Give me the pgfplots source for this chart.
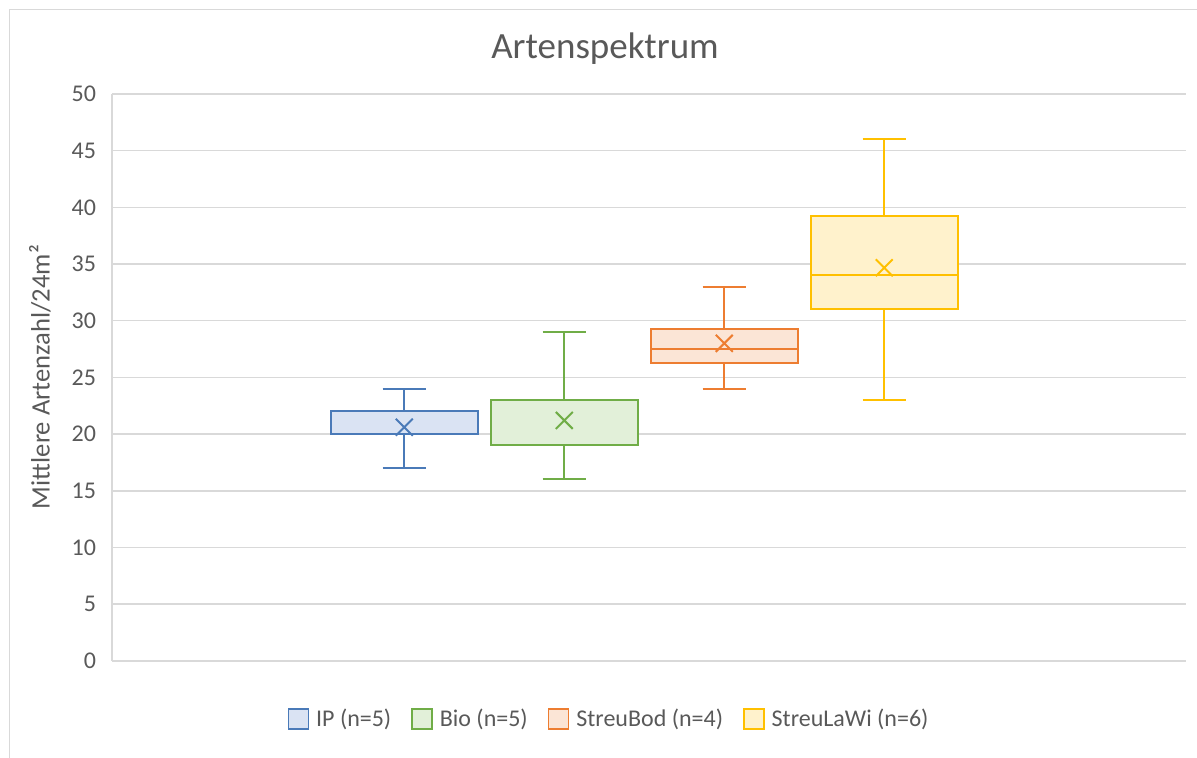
\documentclass[border=0pt]{standalone}
\usepackage{fontspec}
\setmainfont{Carlito}
\usepackage{pgfplots}
\pgfplotsset{compat=1.18}
\usepgfplotslibrary{statistics}
\definecolor{txt}{HTML}{595959}
\definecolor{gridc}{HTML}{D9D9D9}
\definecolor{c1}{HTML}{4A7AB8}\definecolor{f1}{HTML}{DAE3F3}
\definecolor{c2}{HTML}{70AD47}\definecolor{f2}{HTML}{E2F0D9}
\definecolor{c3}{HTML}{ED7D31}\definecolor{f3}{HTML}{FBE5D6}
\definecolor{c4}{HTML}{FFC000}\definecolor{f4}{HTML}{FFF2CC}
\begin{document}
\begin{tikzpicture}
\path[use as bounding box] (0,0) rectangle (598.5pt,378.5pt);
\draw[gridc, line width=0.7pt] (4.75pt,-10pt) rectangle (620pt,373.75pt);
\node[anchor=base, text=txt, font=\fontsize{18.5}{22}\selectfont] at (302.5pt,349pt) {Artenspektrum};
\node[rotate=90, text=txt, font=\fontsize{13.3}{16}\selectfont] at (20pt,190pt) {Mittlere Artenzahl/24m²};
\begin{axis}[
  at={(56pt,48.15pt)}, anchor=south west,
  scale only axis, width=537pt, height=283.35pt,
  xmin=-0.827, xmax=5.886, ymin=0, ymax=50,
  xtick=\empty, ytick={0,5,...,50},
  axis x line*=bottom, axis y line*=left,
  axis line style={-, draw=gridc, line width=0.8pt},
  ymajorgrids, grid style={draw=gridc, line width=0.8pt},
  tick align=inside, major tick length=0pt,
  /pgf/number format/assume math mode=true,
  yticklabel style={font=\fontsize{12}{14}\selectfont, text=txt, xshift=-4.5pt},
  boxplot/draw direction=y,
  boxplot/every average/.style={/tikz/mark=x, /tikz/mark size=6pt, /tikz/mark options={line width=0.9pt, solid}},
  legend columns=4,
  legend style={at={(axis description cs:0.4637,-0.103)}, anchor=center, draw=none, fill=none,
    font=\fontsize{12}{14}\selectfont, text=txt,
    /tikz/every odd column/.append style={column sep=1.5pt},
    /tikz/every even column/.append style={column sep=8pt}},
]
\addplot[draw=c1, fill=f1, line width=1pt, boxplot prepared={lower whisker=17, lower quartile=20, median=20, upper quartile=22, upper whisker=24, average=20.6, draw position=1, box extend=0.917, whisker extend=0.27},
  legend image code/.code={\draw[draw=c1, fill=f1, line width=0.8pt] (0pt,-5pt) rectangle (10pt,5pt);}] coordinates {};
\addlegendentry{IP (n=5)}
\addplot[draw=c2, fill=f2, line width=1pt, boxplot prepared={lower whisker=16, lower quartile=19, median=19, upper quartile=23, upper whisker=29, average=21.2, draw position=2, box extend=0.917, whisker extend=0.27},
  legend image code/.code={\draw[draw=c2, fill=f2, line width=0.8pt] (0pt,-5pt) rectangle (10pt,5pt);}] coordinates {};
\addlegendentry{Bio (n=5)}
\addplot[draw=c3, fill=f3, line width=1pt, boxplot prepared={lower whisker=24, lower quartile=26.25, median=27.5, upper quartile=29.25, upper whisker=33, average=28, draw position=3, box extend=0.917, whisker extend=0.27},
  legend image code/.code={\draw[draw=c3, fill=f3, line width=0.8pt] (0pt,-5pt) rectangle (10pt,5pt);}] coordinates {};
\addlegendentry{StreuBod (n=4)}
\addplot[draw=c4, fill=f4, line width=1pt, boxplot prepared={lower whisker=23, lower quartile=31, median=34, upper quartile=39.25, upper whisker=46, average=34.667, draw position=4, box extend=0.917, whisker extend=0.27},
  legend image code/.code={\draw[draw=c4, fill=f4, line width=0.8pt] (0pt,-5pt) rectangle (10pt,5pt);}] coordinates {};
\addlegendentry{StreuLaWi (n=6)}
\end{axis}
\end{tikzpicture}
\end{document}
